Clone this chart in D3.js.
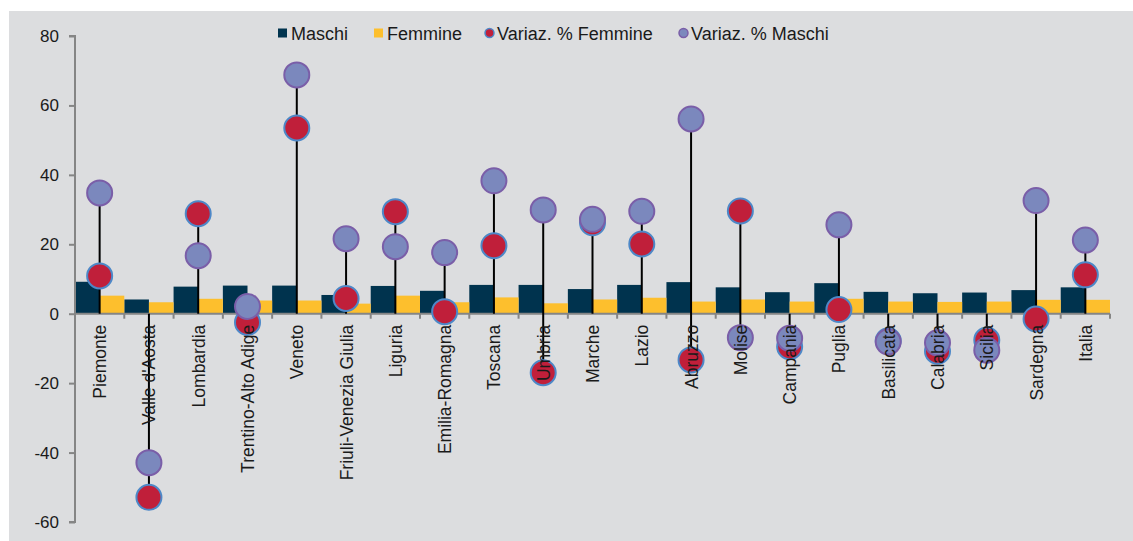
<!DOCTYPE html>
<html>
<head>
<meta charset="utf-8">
<script src="https://cdn.jsdelivr.net/npm/d3@7"></script>
<style>
  html, body { margin: 0; padding: 0; background: #ffffff; }
  svg { display: block; }
  text { font-family: "Liberation Sans", Arial, sans-serif; fill: #1a1a1a; }
</style>
</head>
<body>
<svg id="chart" width="1133" height="541"></svg>
<script>
// Regioni
const regions = ["Piemonte", "Valle d'Aosta", "Lombardia", "Trentino-Alto Adige", "Veneto",
  "Friuli-Venezia Giulia", "Liguria", "Emilia-Romagna", "Toscana", "Umbria", "Marche",
  "Lazio", "Abruzzo", "Molise", "Campania", "Puglia", "Basilicata", "Calabria", "Sicilia",
  "Sardegna", "Italia"];

// Valori (colonne)
const maschi  = [9.2, 4.1, 7.8, 8.1, 8.1, 5.4, 8.0, 6.6, 8.3, 8.3, 7.1, 8.3, 9.1, 7.6, 6.2, 8.8, 6.3, 5.9, 6.1, 6.8, 7.6];
const femmine = [5.2, 3.3, 4.3, 3.8, 3.8, 2.9, 5.2, 3.3, 4.7, 3.0, 4.1, 4.6, 3.5, 4.1, 3.5, 4.3, 3.5, 3.4, 3.5, 4.0, 4.0];

// Variazioni percentuali (punti)
const variazFemmine = [10.9, -52.9, 28.8, -2.5, 53.5, 4.4, 29.4, 0.6, 19.6, -17.0, 26.2, 20.1, -13.3, 29.6, -9.5, 1.2, -7.8, -10.8, -7.6, -1.5, 11.2];
const variazMaschi  = [34.8, -42.9, 16.7, 2.1, 68.8, 21.6, 19.3, 17.6, 38.3, 29.9, 27.2, 29.5, 56.1, -6.9, -7.1, 25.6, -8.1, -8.4, -10.5, 32.6, 21.2];

const yTicks = [80, 60, 40, 20, 0, -20, -40, -60];
const legendLabels = ["Maschi", "Femmine", "Variaz. % Femmine", "Variaz. % Maschi"];

const colors = {
  maschi: "#00334e",
  femmine: "#fdbf2d",
  redFill: "#c01f3a",
  redStroke: "#4d88c8",
  purpleFill: "#7b88bd",
  purpleStroke: "#7a5ea8",
  axis: "#858585",
  bg: "#dcdddf"
};

const svg = d3.select("#chart");
const W = 1133, H = 541;

// sfondo grigio dell'area grafico
svg.append("rect").attr("x", 9).attr("y", 11).attr("width", W - 9).attr("height", H - 11)
  .attr("fill", colors.bg);

const plot = { left: 75, right: 1110, top: 36, bottom: 522 };

const x = d3.scaleBand().domain(regions).range([plot.left, plot.right]).padding(0);
const y = d3.scaleLinear().domain([-60, 80]).range([plot.bottom, plot.top]);
const half = x.bandwidth() / 2;

// livelli: colonne, assi, linee, punti, etichette
const gBars = svg.append("g");
const gAxes = svg.append("g");
const gStems = svg.append("g");
const gDots = svg.append("g");
const gLabels = svg.append("g");

// colonne
gBars.selectAll("rect.m").data(regions).join("rect").attr("class", "m")
  .attr("x", d => x(d))
  .attr("width", half)
  .attr("y", (d, i) => y(maschi[i]))
  .attr("height", (d, i) => y(0) - y(maschi[i]))
  .attr("fill", colors.maschi);
gBars.selectAll("rect.f").data(regions).join("rect").attr("class", "f")
  .attr("x", d => x(d) + half)
  .attr("width", half)
  .attr("y", (d, i) => y(femmine[i]))
  .attr("height", (d, i) => y(0) - y(femmine[i]))
  .attr("fill", colors.femmine);

// asse Y
const yAxis = d3.axisLeft(y).tickValues(yTicks).tickSize(6).tickPadding(10).tickFormat(d => String(d));
const ya = gAxes.append("g").attr("transform", `translate(${plot.left},0)`).call(yAxis);
ya.select(".domain").attr("stroke", colors.axis).attr("stroke-width", 2)
  .attr("d", `M-6,${y(80)}H0V${y(-60)}H-6`);
ya.selectAll(".tick line").attr("stroke", colors.axis).attr("stroke-width", 2);
ya.selectAll(".tick text").attr("font-size", 17).attr("fill", "#1a1a1a")
  .style("font-family", "'Liberation Sans', Arial, sans-serif");

// asse X (linea dello zero e tacche fra categorie)
gAxes.append("line").attr("x1", plot.left).attr("x2", plot.right)
  .attr("y1", y(0)).attr("y2", y(0)).attr("stroke", colors.axis).attr("stroke-width", 2);
const bounds = regions.map(d => x(d)).concat([x(regions[regions.length - 1]) + x.bandwidth()]);
gAxes.selectAll("line.tk").data(bounds).join("line").attr("class", "tk")
  .attr("x1", d => d).attr("x2", d => d)
  .attr("y1", y(0)).attr("y2", y(0) + 5)
  .attr("stroke", colors.axis).attr("stroke-width", 2);

// linee verticali fra lo zero e i punti
gStems.selectAll("line.stem").data(regions).join("line").attr("class", "stem")
  .attr("x1", d => x(d) + half).attr("x2", d => x(d) + half)
  .attr("y1", (d, i) => y(Math.max(0, variazFemmine[i], variazMaschi[i])))
  .attr("y2", (d, i) => y(Math.min(0, variazFemmine[i], variazMaschi[i])))
  .attr("stroke", "#000").attr("stroke-width", 2);

// punti
gDots.selectAll("circle.fem").data(regions).join("circle").attr("class", "fem")
  .attr("cx", d => x(d) + half)
  .attr("cy", (d, i) => y(variazFemmine[i]))
  .attr("r", 12.5)
  .attr("fill", colors.redFill).attr("stroke", colors.redStroke).attr("stroke-width", 2);
gDots.selectAll("circle.mas").data(regions).join("circle").attr("class", "mas")
  .attr("cx", d => x(d) + half)
  .attr("cy", (d, i) => y(variazMaschi[i]))
  .attr("r", 12.5)
  .attr("fill", colors.purpleFill).attr("stroke", colors.purpleStroke).attr("stroke-width", 2);

// etichette categorie ruotate
gLabels.selectAll("text.lab").data(regions).join("text").attr("class", "lab")
  .attr("transform", d => `translate(${x(d) + half + 6.5},${y(0) + 11}) rotate(-90)`)
  .attr("text-anchor", "end")
  .attr("font-size", 17.5)
  .text(d => d);

// legenda
const legend = svg.append("g").attr("transform", "translate(0,33)");
const items = [
  { label: legendLabels[0], type: "sq", color: colors.maschi, x: 278 },
  { label: legendLabels[1], type: "sq", color: colors.femmine, x: 374 },
  { label: legendLabels[2], type: "dot", fill: colors.redFill, stroke: colors.redStroke, x: 484 },
  { label: legendLabels[3], type: "dot", fill: colors.purpleFill, stroke: colors.purpleStroke, x: 678 }
];
items.forEach(it => {
  const li = legend.append("g").attr("transform", `translate(${it.x},0)`);
  if (it.type === "sq") {
    li.append("rect").attr("x", 0).attr("y", -4.5).attr("width", 9).attr("height", 9).attr("fill", it.color);
    li.append("text").attr("x", 13).attr("y", 6.5).attr("font-size", 18).text(it.label);
  } else {
    li.append("circle").attr("cx", 5.5).attr("cy", 0).attr("r", 4.5)
      .attr("fill", it.fill).attr("stroke", it.stroke).attr("stroke-width", 1.5);
    li.append("text").attr("x", 13).attr("y", 6.5).attr("font-size", 18).text(it.label);
  }
});
</script>
</body>
</html>
